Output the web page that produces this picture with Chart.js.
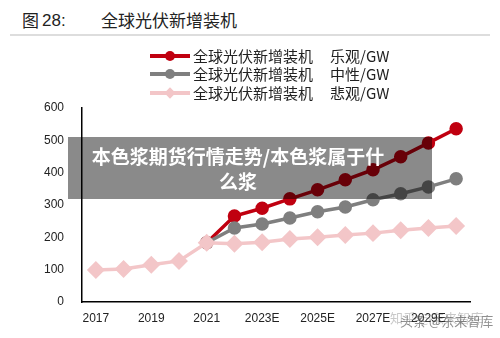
<!DOCTYPE html>
<html lang="zh">
<head>
  <meta charset="UTF-8">
  <title>全球光伏新增装机</title>
  <script src="https://cdn.jsdelivr.net/npm/chart.js"></script>
  <style>
    body { margin: 0; background: #fff; font-family: "Noto Sans CJK SC", sans-serif; }
    #wrap { position: relative; width: 500px; height: 338px; overflow: hidden; }
    .tt { position: absolute; top: 8px; height: 24px; font-size: 17px; line-height: 24px; color: #222; white-space: pre; }
    #rule { position: absolute; left: 10px; top: 34px; width: 480px; height: 2px; background: #ddd; }
    #chart { position: absolute; left: 0; top: 0; }
    .leg { position: absolute; left: 150px; height: 18px; font-size: 15px; color: #222; white-space: pre; line-height: 18px; }
    .leg .ln { position: absolute; left: 0; top: 7px; width: 40px; height: 4px; }
    .leg .mk { position: absolute; left: 15px; top: 4px; width: 10px; height: 10px; }
    .leg .tx { position: absolute; left: 43px; top: 0; }
    .leg .tx2 { position: absolute; left: 180px; top: 0; }
    #banner { position: absolute; left: 68px; top: 137px; width: 364px; height: 62px; background: rgba(0,0,0,0.46); }
    #banner div { position: absolute; left: 0; top: 6px; width: 340px; text-align: center; color: #fff; font-weight: bold; font-size: 19px; line-height: 25px; }
    .wm { position: absolute; font-size: 13px; white-space: pre; }
  </style>
</head>
<body>
<div id="wrap">
  <div class="tt" style="left:22px">图</div>
  <div class="tt" style="left:42px;top:9px;font-family:'Liberation Sans'">28:</div>
  <div class="tt" style="left:101px">全球光伏新增装机</div>
  <div id="rule"></div>
  <canvas id="chart" width="500" height="338"></canvas>
  <div id="legend"></div>
  <div id="banner"><div>本色浆期货行情走势/本色浆属于什<br>么浆</div></div>
  <div class="wm" style="left:390px;top:308px;color:rgba(120,120,120,0.4)">知乎 @东来智库</div>
  <div class="wm" style="left:400px;top:311px;color:rgba(70,70,70,0.6)">头条 @东来智库</div>
</div>
<script>
  const years = ['2017', '2018', '2019', '2020', '2021', '2022E', '2023E', '2024E', '2025E', '2026E', '2027E', '2028E', '2029E', '2030E'];
  const optimistic = [null, null, null, null, 183, 266, 290, 319, 347, 378, 409, 449, 492, 536];
  const neutral = [null, null, null, null, 183, 229, 241, 260, 279, 294, 316, 335, 356, 381];
  const pessimistic = [99, 102, 115, 127, 183, 180, 185, 195, 200, 207, 213, 222, 229, 235];
  const seriesNames = ['全球光伏新增装机', '全球光伏新增装机', '全球光伏新增装机'];
  const seriesCases = ['乐观/GW', '中性/GW', '悲观/GW'];
  const yTicks = [0, 100, 200, 300, 400, 500, 600];

  const colors = ['#c00010', '#7f7f7f', '#f3c6c8'];
  const styles = ['circle', 'circle', 'rectRot'];

  // legend in html
  const legend = document.getElementById('legend');
  const legTops = [47, 65, 84];
  seriesNames.forEach((name, i) => {
    const d = document.createElement('div');
    d.className = 'leg';
    d.style.top = legTops[i] + 'px';
    const mk = styles[i] === 'rectRot'
      ? `<div class="mk" style="background:${colors[i]};transform:rotate(45deg) scale(0.8)"></div>`
      : `<div class="mk" style="background:${colors[i]};border-radius:50%"></div>`;
    d.innerHTML = `<div class="ln" style="background:${colors[i]}"></div>${mk}<div class="tx">${name}</div><div class="tx2">${seriesCases[i]}</div>`;
    legend.appendChild(d);
  });

  const mkSet = (label, data, i) => ({
    label: label,
    data: data,
    borderColor: colors[i],
    backgroundColor: colors[i],
    borderWidth: 3.5,
    pointStyle: styles[i],
    pointRadius: styles[i] === 'rectRot' ? 6.5 : 5,
    tension: 0,
    spanGaps: false
  });

  const ctx = document.getElementById('chart').getContext('2d');
  new Chart(ctx, {
    type: 'line',
    data: {
      labels: years,
      datasets: [
        mkSet(seriesNames[2] + ' ' + seriesCases[2], pessimistic, 2),
        mkSet(seriesNames[1] + ' ' + seriesCases[1], neutral, 1),
        mkSet(seriesNames[0] + ' ' + seriesCases[0], optimistic, 0)
      ]
    },
    options: {
      responsive: false,
      animation: false,
      layout: { padding: { top: 108, right: 30, left: 0, bottom: 0 } },
      plugins: { legend: { display: false }, tooltip: { enabled: false } },
      scales: {
        x: {
          offset: true,
          grid: { display: false, drawTicks: false },
          border: { color: '#000', width: 1.5 },
          afterFit: (s) => { s.height = 36; },
          ticks: {
            autoSkip: false,
            maxRotation: 0,
            padding: 9,
            color: '#222',
            font: { family: 'Liberation Sans', size: 12 },
            callback: (v, i) => (i % 2 === 0 ? years[i] : '')
          }
        },
        y: {
          min: yTicks[0],
          max: yTicks[yTicks.length - 1],
          afterBuildTicks: (s) => { s.ticks = yTicks.map(v => ({ value: v })); },
          afterFit: (s) => { s.width = 82; },
          grid: { display: false, drawTicks: false },
          border: { color: '#000', width: 1.5 },
          ticks: {
            padding: 18,
            color: '#222',
            font: { family: 'Liberation Sans', size: 12 }
          }
        }
      }
    }
  });
</script>
</body>
</html>
